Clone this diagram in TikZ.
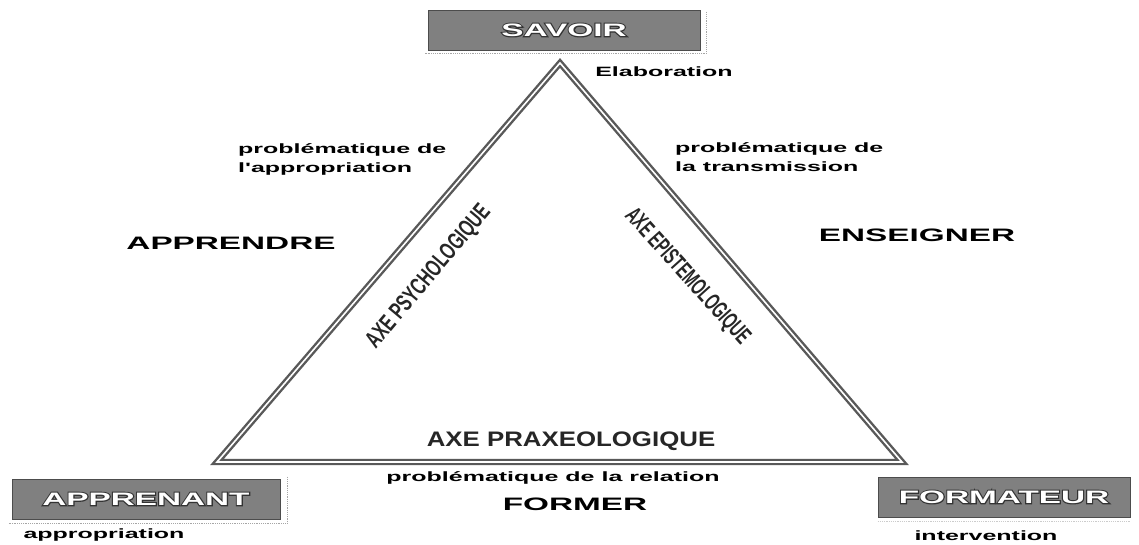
\documentclass[tikz,border=0pt]{standalone}
\usepackage{fontspec}
\setmainfont{Liberation Sans}
\newfontfamily\widefont[FakeStretch=1.85]{Liberation Sans}
\newfontfamily\narrowfont[FakeStretch=0.67]{Liberation Sans}
\newfontfamily\narrowerfont[FakeStretch=0.6]{Liberation Sans}
\newfontfamily\axefont[FakeStretch=1.23]{Liberation Sans}
\newcommand{\outlined}[1]{\rlap{\special{pdf:literal direct 1 Tr 2.2 w 0.2 G}#1\special{pdf:literal direct 0 Tr}}#1}

\tikzset{
  rolebox/.style={draw=black!70, line width=1pt, fill=black!50, text=white,
    minimum height=40pt, inner sep=0pt,
    font=\widefont\bfseries\fontsize{18}{20}\selectfont},
  shadowline/.style={black!35, densely dotted, line width=1.2pt},
  bigword/.style={font=\widefont\bfseries\fontsize{18}{20}\selectfont},
  smallword/.style={font=\widefont\bfseries\fontsize{13.5}{19}\selectfont, align=left, inner sep=0pt},
  axelabel/.style={font=\narrowfont\bfseries\fontsize{24}{26}\selectfont, inner sep=0pt, text=black!85},
  edge/.style={draw=black!65, double=white, line width=2.4pt, double distance=1.6pt, line join=miter}
}

\begin{document}
\begin{tikzpicture}[x=1pt, y=-1pt]
    \useasboundingbox (0,0) rectangle (1139,544);

    % the three poles
    \node[rolebox, minimum width=272pt] (savoir) at (564,30) {\outlined{SAVOIR}};
    \node[rolebox, minimum width=268pt] (apprenant) at (146,499) {\outlined{APPRENANT}};
    \node[rolebox, minimum width=252pt] (formateur) at (1004,497) {\outlined{FORMATEUR}};
    \draw[shadowline] ([xshift=6pt,yshift=-2pt]savoir.north east) |- ([xshift=-3pt,yshift=-3pt]savoir.south west);
    \draw[shadowline] ([xshift=7pt,yshift=2pt]apprenant.north east) |- ([xshift=-3pt,yshift=-4pt]apprenant.south west);
    \draw[shadowline, black!20] ([yshift=-4pt]formateur.south west) -- ([yshift=-4pt]formateur.south east);

    % triangle
    \coordinate (top) at (560,63);
    \coordinate (left) at (217,462);
    \coordinate (right) at (902,462);
    \draw[edge] (top) -- (right) -- (left) -- cycle;

    % axes
    \node[axelabel, rotate=50] (psycho) at (429,277) {AXE PSYCHOLOGIQUE};
    \node[axelabel, font=\narrowerfont\bfseries\fontsize{24}{26}\selectfont, rotate=-48] (episte) at (687,277) {AXE EPISTEMOLOGIQUE};
    \node[axelabel, font=\axefont\bfseries\fontsize{21}{23}\selectfont] (praxeo) at (571,441) {AXE PRAXEOLOGIQUE};

    % texts
    \node[smallword] (elab) at (664,72) {Elaboration};
    \node[smallword, anchor=west] (pbapp) at (238,159) {problématique de\\l'appropriation};
    \node[smallword, anchor=west] (pbtrans) at (675,157) {problématique de\\la transmission};
    \node[smallword] (pbrel) at (553,478) {problématique de la relation};
    \node[bigword] (apprendre) at (231,243) {APPRENDRE};
    \node[bigword] (enseigner) at (917,235) {ENSEIGNER};
    \node[bigword] (former) at (575,504) {FORMER};
    \node[smallword] (appro) at (104,535) {appropriation};
    \node[smallword] (interv) at (986,536) {intervention};

\end{tikzpicture}
\end{document}
